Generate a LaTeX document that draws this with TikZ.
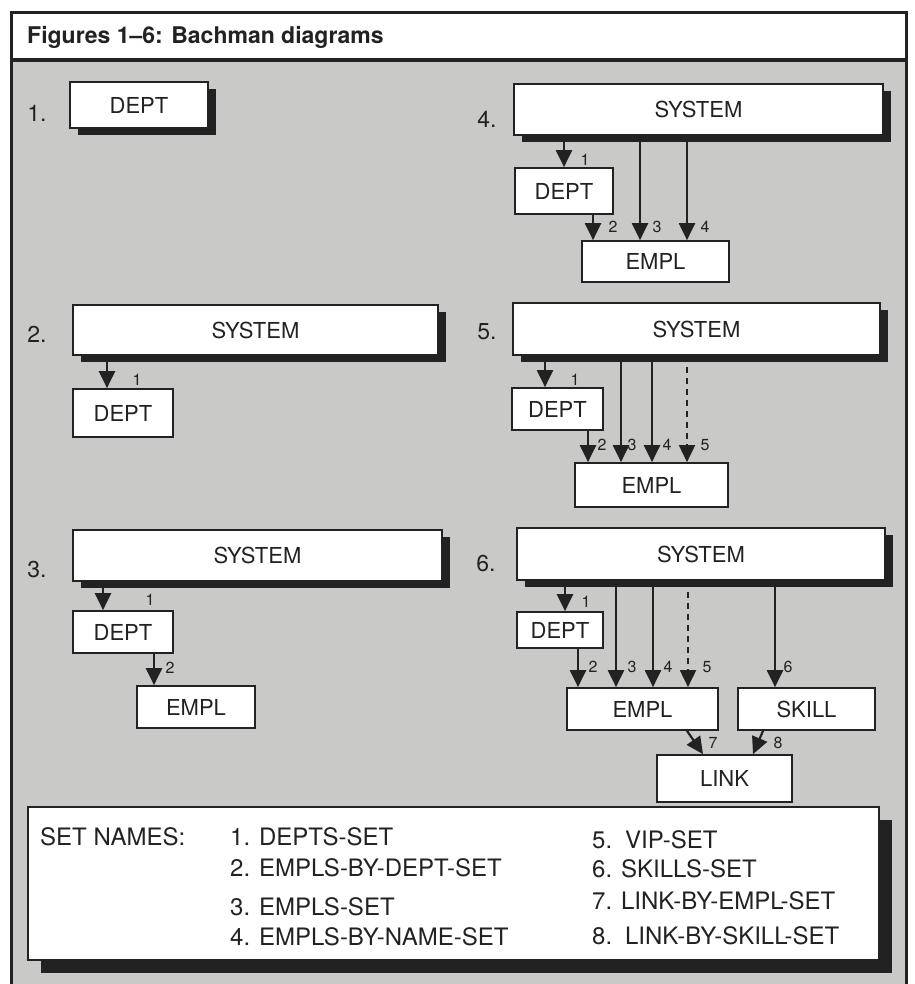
\documentclass[tikz,border=0pt]{standalone}
\usepackage{fontspec}
\setsansfont{TeX Gyre Heros}
\usetikzlibrary{arrows.meta, shadows, positioning}
\definecolor{ink}{RGB}{34,34,34}
\definecolor{panel}{RGB}{201,201,199}

\begin{document}
\begin{tikzpicture}[
        x=1pt, y=-1pt,
        font=\sffamily,
        ent/.style={
          draw=ink,
          fill=white,
          line width=1.7pt,
          inner sep=0pt,
          text=ink,
          font=\sffamily\fontsize{22}{25}\selectfont
        },
        owner/.style={ent, drop shadow={shadow xshift=8pt, shadow yshift=-7pt, fill=ink, opacity=1}},
        legendbox/.style={ent, drop shadow={shadow xshift=13pt, shadow yshift=-13pt, fill=ink, opacity=1}},
        set/.style={-{Triangle[length=17pt, width=16pt]}, line width=2.2pt, draw=ink},
        vip/.style={set, line width=1.8pt, dash pattern=on 6pt off 5pt},
        num/.style={inner sep=0pt, text=ink, font=\sffamily\fontsize{16}{18}\selectfont},
        figno/.style={inner sep=0pt, text=ink, font=\sffamily\fontsize{23}{25}\selectfont},
        key/.style={anchor=west, inner sep=0pt, text=ink, font=\sffamily\fontsize{24}{28}\selectfont}
      ]

      \useasboundingbox (0,0) rectangle (914,984);
      \fill[white] (0,0) rectangle (914,984);

      % panel and title bar
      \fill[panel] (11,13) rectangle (906,984);
      \fill[white] (11,13) rectangle (906,60);
      \draw[ink, line width=4pt] (11,60) -- (906,60);
      \draw[ink, line width=3pt] (11,984) -- (11,13) -- (906,13) -- (906,984);
      \node[anchor=west, inner sep=0pt, text=ink, font=\sffamily\bfseries\fontsize{23}{26}\selectfont] (title) at (27,37) {Figures 1--6: Bachman diagrams};

      % figure 1
      \node[figno] (f1) at (37,113) {1.};
      \node[owner, minimum width=138, minimum height=46] (dept1) at (139,105) {DEPT};

      % figure 2
      \node[figno] (f2) at (37,334) {2.};
      \node[owner, minimum width=365, minimum height=50] (sys2) at (255.5,330) {SYSTEM};
      \node[ent, minimum width=100, minimum height=48] (dept2) at (123,413) {DEPT};
      \draw[set] (sys2.south -| 107,0) -- (dept2.north -| 107,0);
      \node[num] (n21) at (137,380) {1};

      % figure 3
      \node[figno] (f3) at (37,570) {3.};
      \node[owner, minimum width=369, minimum height=51] (sys3) at (257.5,555.5) {SYSTEM};
      \node[ent, minimum width=100, minimum height=42] (dept3) at (123,632) {DEPT};
      \node[ent, minimum width=118, minimum height=42] (empl3) at (196,707) {EMPL};
      \draw[set] (sys3.south -| 103,0) -- (dept3.north -| 103,0);
      \draw[set] (dept3.south -| 154,0) -- (empl3.north -| 154,0);
      \node[num] (n31) at (150,600) {1};
      \node[num] (n32) at (170,668) {2};

      % figure 4
      \node[figno] (f4) at (487,119) {4.};
      \node[owner, minimum width=369, minimum height=51] (sys4) at (698.5,109.5) {SYSTEM};
      \node[ent, minimum width=98, minimum height=46] (dept4) at (564,191) {DEPT};
      \node[ent, minimum width=147, minimum height=41] (empl4) at (655.5,261.5) {EMPL};
      \draw[set] (sys4.south -| dept4) -- (dept4);
      \draw[set] (dept4.south -| 593,0) -- (empl4.north -| 593,0);
      \draw[set] (sys4.south -| 640,0) -- (empl4.north -| 640,0);
      \draw[set] (sys4.south -| 687,0) -- (empl4.north -| 687,0);
      \node[num] (n41) at (585,160) {1};
      \node[num] (n42) at (613,227) {2};
      \node[num] (n43) at (657,227) {3};
      \node[num] (n44) at (705,227) {4};

      % figure 5
      \node[figno] (f5) at (487,332) {5.};
      \node[owner, minimum width=367, minimum height=52] (sys5) at (696.5,329) {SYSTEM};
      \node[ent, minimum width=91, minimum height=42] (dept5) at (557.5,409) {DEPT};
      \node[ent, minimum width=153, minimum height=44] (empl5) at (651.5,485) {EMPL};
      \draw[set] (sys5.south -| 545,0) -- (dept5.north -| 545,0);
      \draw[set] (dept5.south -| 588,0) -- (empl5.north -| 588,0);
      \draw[set] (sys5.south -| 621,0) -- (empl5.north -| 621,0);
      \draw[set] (sys5.south -| 652,0) -- (empl5.north -| 652,0);
      \draw[vip] (sys5.south -| 687,0) -- (empl5.north -| 687,0);
      \node[num] (n51) at (575,380) {1};
      \node[num] (n52) at (602,445) {2};
      \node[num] (n53) at (632,445) {3};
      \node[num] (n54) at (667,445) {4};
      \node[num] (n55) at (705,445) {5};

      % figure 6
      \node[figno] (f6) at (486,564) {6.};
      \node[owner, minimum width=368, minimum height=52] (sys6) at (701,554) {SYSTEM};
      \node[ent, minimum width=86, minimum height=36] (dept6) at (560,630) {DEPT};
      \node[ent, minimum width=151, minimum height=42] (empl6) at (642.5,709) {EMPL};
      \node[ent, minimum width=137, minimum height=42] (skill6) at (806.5,709) {SKILL};
      \node[ent, minimum width=135, minimum height=47] (link6) at (724.5,778.5) {LINK};
      \draw[set] (sys6.south -| 565,0) -- (dept6.north -| 565,0);
      \draw[set] (dept6.south -| 578,0) -- (empl6.north -| 578,0);
      \draw[set] (sys6.south -| 616,0) -- (empl6.north -| 616,0);
      \draw[set] (sys6.south -| 653,0) -- (empl6.north -| 653,0);
      \draw[vip] (sys6.south -| 688,0) -- (empl6.north -| 688,0);
      \draw[set] (sys6.south -| 775,0) -- (skill6.north -| 775,0);
      \draw[set] (empl6.south -| 687,0) -- (link6.north -| 703,0);
      \draw[set] (skill6.south -| 763,0) -- (link6.north -| 753,0);
      \node[num] (n61) at (586,602) {1};
      \node[num] (n62) at (593,667) {2};
      \node[num] (n63) at (632,667) {3};
      \node[num] (n64) at (668,667) {4};
      \node[num] (n65) at (707,667) {5};
      \node[num] (n66) at (788,667) {6};
      \node[num] (n67) at (713,743) {7};
      \node[num] (n68) at (778,743) {8};

      % set names
      \node[legendbox, minimum width=851, minimum height=153] (names) at (453.5,883.5) {};
      \node[key] (head) at (40,837) {SET NAMES:};
      \node[key] (s1) at (230,837) {1. DEPTS-SET};
      \node[key] (s2) at (230,868) {2. EMPLS-BY-DEPT-SET};
      \node[key] (s3) at (230,907) {3. EMPLS-SET};
      \node[key] (s4) at (230,937) {4. EMPLS-BY-NAME-SET};
      \node[key] (s5) at (592,840) {5.\, VIP-SET};
      \node[key] (s6) at (592,869) {6. SKILLS-SET};
      \node[key] (s7) at (592,901) {7. LINK-BY-EMPL-SET};
      \node[key] (s8) at (592,936) {8.\, LINK-BY-SKILL-SET};
    \end{tikzpicture}
\end{document}
